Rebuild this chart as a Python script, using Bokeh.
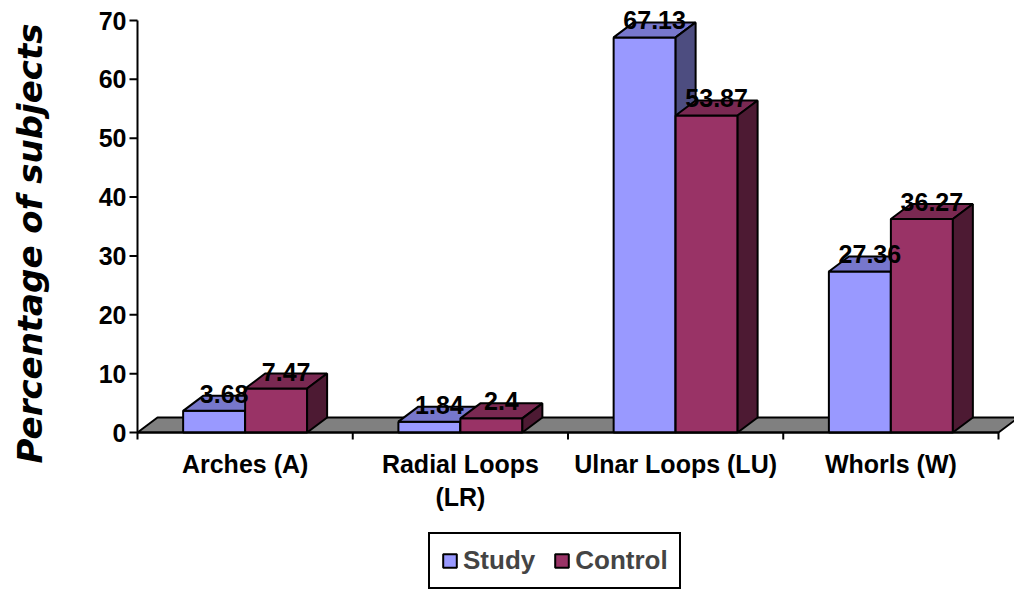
import math
from bokeh.plotting import figure
from bokeh.models import Range1d, Legend, LegendItem
from bokeh.embed import file_html
from bokeh.resources import INLINE
from bokeh.core.properties import value

# ---- data ----
categories = ["Arches (A)", "Radial Loops\n(LR)", "Ulnar Loops (LU)", "Whorls (W)"]
study = [3.68, 1.84, 67.13, 27.36]
control = [7.47, 2.4, 53.87, 36.27]
series_names = ["Study", "Control"]
y_ticks = [0, 10, 20, 30, 40, 50, 60, 70]
y_title = "Percentage of subjects"

# ---- styling / geometry (pixel scale of the plotting area) ----
W, H = 1014, 590
ORIGIN_PX = (137, 432)     # where category 0 / value 0 sits on the canvas
PX_X = 215.25              # pixels per category slot
PX_Y = 412 / 70            # pixels per percent
DX = 20 / PX_X             # 3D depth offset (x)
DY = 15 / PX_Y             # 3D depth offset (y)
BAR_W = 0.288
FONT = "Liberation Sans"
colors = {
    "Study": ("#9999FF", "#7777CC", "#4D4D80"),
    "Control": ("#993366", "#7A2952", "#4D1A33"),
}

def sx(px):   # pixel offset -> data units (x)
    return px / PX_X

def sy(px):   # pixel offset -> data units (y)
    return px / PX_Y

p = figure(width=W, height=H, output_backend="svg", toolbar_location=None,
           x_range=Range1d(sx(-ORIGIN_PX[0]), sx(W - ORIGIN_PX[0])),
           y_range=Range1d(sy(-(H - ORIGIN_PX[1])), sy(ORIGIN_PX[1])),
           min_border=0, x_axis_type=None, y_axis_type=None)
p.outline_line_color = None
p.background_fill_color = "white"
p.border_fill_color = "white"
p.xgrid.visible = False
p.ygrid.visible = False

n = len(categories)

# floor
p.patches(xs=[[0, n, n + DX, DX]], ys=[[0, 0, DY, DY]],
          fill_color="#808080", line_color="black", line_width=2)

front_renderers = []
for s_idx, (name, vals) in enumerate(zip(series_names, [study, control])):
    front, topc, side = colors[name]
    lefts = [i + 0.5 - BAR_W + s_idx * BAR_W for i in range(n)]
    rights = [l + BAR_W for l in lefts]
    r = p.quad(left=lefts, right=rights, bottom=[0] * n, top=vals,
               fill_color=front, line_color="black", line_width=2)
    front_renderers.append(r)
    p.patches(xs=[[l, rr, rr + DX, l + DX] for l, rr in zip(lefts, rights)],
              ys=[[v, v, v + DY, v + DY] for v in vals],
              fill_color=topc, line_color="black", line_width=2)
    p.patches(xs=[[rr, rr + DX, rr + DX, rr] for rr in rights],
              ys=[[0, DY, v + DY, v] for v in vals],
              fill_color=side, line_color="black", line_width=2)

# data labels
for s_idx, vals in enumerate([study, control]):
    xs = [i + 0.5 - BAR_W / 2 + s_idx * BAR_W + DX / 2 for i in range(n)]
    ys = [v + DY + sy(2) for v in vals]
    p.text(x=xs, y=ys, text=[str(v) for v in vals], text_align="center",
           text_baseline="middle", text_font=value(FONT), text_font_style="bold",
           text_font_size="25px", text_color="black")

# y axis (line, ticks, labels)
p.segment(x0=[0], y0=[0], x1=[0], y1=[y_ticks[-1]], line_color="black", line_width=2)
p.segment(x0=[sx(-8)] * len(y_ticks), y0=y_ticks, x1=[0] * len(y_ticks), y1=y_ticks,
          line_color="black", line_width=2)
p.text(x=[sx(-11)] * len(y_ticks), y=y_ticks, text=[str(t) for t in y_ticks],
       text_align="right", text_baseline="middle", text_font=value(FONT),
       text_font_style="bold", text_font_size="25px", text_color="black")

# x axis (line, boundary ticks, category labels)
bounds = list(range(n + 1))
p.segment(x0=[0], y0=[0], x1=[n], y1=[0], line_color="black", line_width=2)
p.segment(x0=bounds, y0=[0] * len(bounds), x1=bounds, y1=[sy(-7)] * len(bounds),
          line_color="black", line_width=2)
p.text(x=[i + 0.5 for i in range(n)], y=[sy(-17)] * n, text=categories,
       text_align="center", text_baseline="top", text_font=value(FONT),
       text_font_style="bold", text_font_size="25px", text_color="black",
       text_line_height=1.2)

# y title
p.text(x=[sx(29 - ORIGIN_PX[0])], y=[sy(ORIGIN_PX[1] - 243)], text=[y_title],
       angle=math.pi / 2, text_align="center", text_baseline="middle",
       text_font=value("DejaVu Sans"), text_font_style="bold italic",
       text_font_size="34px", text_color="black")

# legend
legend = Legend(items=[LegendItem(label=nm, renderers=[rr])
                       for nm, rr in zip(series_names, front_renderers)],
                orientation="horizontal", location=(428, 1),
                glyph_width=17, glyph_height=17, label_standoff=5, spacing=18,
                padding=11, margin=0, border_line_color="black",
                border_line_alpha=1.0, border_line_width=2, label_text_font=FONT,
                label_text_font_style="bold", label_text_font_size="26px",
                background_fill_alpha=1.0)
p.add_layout(legend)

open("out.html", "w").write(file_html(p, INLINE))
